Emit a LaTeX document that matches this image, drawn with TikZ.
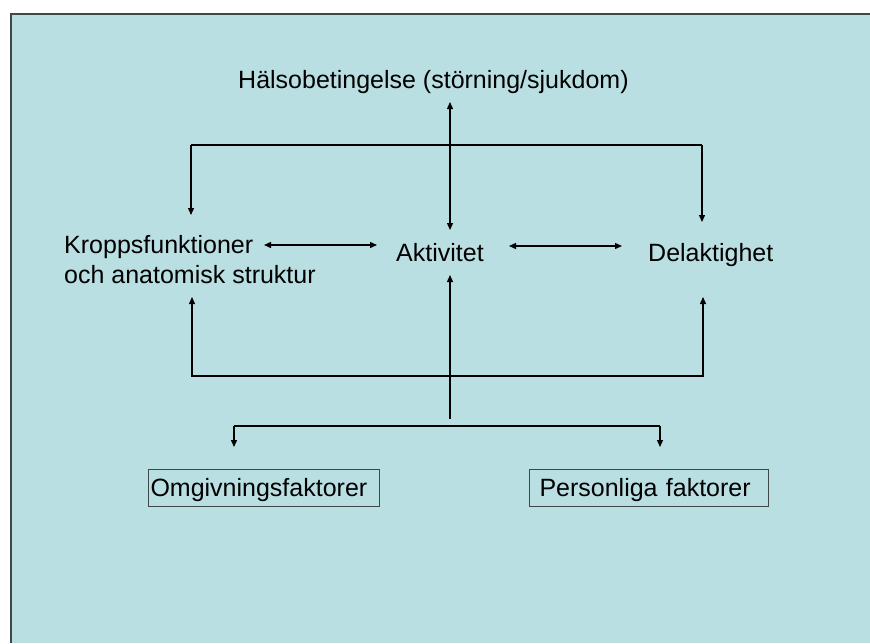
\documentclass[tikz,border=0pt]{standalone}
\usepackage{fontspec}
\setmainfont{Liberation Sans}
\usetikzlibrary{arrows.meta}
\definecolor{bgc}{HTML}{BADFE2}
\definecolor{edge}{HTML}{3E4848}
\begin{document}
\begin{tikzpicture}[x=1pt,y=-1pt,
  lbl/.style={inner sep=0pt,anchor=base west,font=\fontsize{25}{30}\selectfont},
  boxed/.style={draw=edge,line width=1pt,anchor=west,align=left,minimum height=37pt,inner ysep=0pt,text height=20pt,text depth=3pt,font=\fontsize{25}{30}\selectfont},
  conn/.style={line width=1.3pt,draw=black},
  tip/.style={-{Triangle[length=7pt,width=6pt]}},
  tips/.style={{Triangle[length=7pt,width=6pt]}-{Triangle[length=7pt,width=6pt]}}]
\useasboundingbox (0,0) rectangle (870,643);
\fill[white] (0,0) rectangle (870,643);
\fill[bgc] (11,14) rectangle (870,643);
\draw[edge,line width=1.6pt] (11,643) -- (11,14) -- (870,14);

\node[lbl] (H) at (238,88) {Hälsobetingelse (störning/sjukdom)};
\node[lbl] (K) at (64,253) {\begin{tabular}[t]{@{}l@{}}Kroppsfunktioner\\och anatomisk struktur\end{tabular}};
\node[lbl] (A) at (396,261) {Aktivitet};
\node[lbl] (D) at (648,261) {Delaktighet};
\node[boxed,inner xsep=2.5pt,text width=226.5pt] (O) at (147.5,487.5) {Omgivningsfaktorer};
\node[boxed,inner xsep=10pt,text width=219pt] (P) at (529,487.5) {Personliga faktorer};

% named endpoints near the nodes
\coordinate (hA) at (450,102);
\coordinate (aT) at (450,230);
\coordinate (aB) at (450,275);
\coordinate (aL) at (377,245);
\coordinate (aR) at (509,246);
\coordinate (kR) at (264,245);
\coordinate (kT) at (191,215);
\coordinate (kB) at (192,297);
\coordinate (dL) at (622,246);
\coordinate (dT) at (702,222);
\coordinate (dB) at (703,297);
\coordinate (oT) at (234,447);
\coordinate (pT) at (660,447);
\coordinate (cEnd) at (450,419);

\draw[conn,tips] (hA) -- (aT);
\draw[conn,tip] (kT |- 0,145) -- (kT);
\draw[conn] (kT |- 0,145) -- (dT |- 0,145);
\draw[conn,tip] (dT |- 0,145) -- (dT);
\draw[conn,tips] (kR) -- (aL);
\draw[conn,tips] (aR) -- (dL);
\draw[conn,tips] (kB) -- (kB |- 0,376) -- (dB |- 0,376) -- (dB);
\draw[conn,tip] (cEnd) -- (aB);
\draw[conn,tip] (oT |- 0,426) -- (oT);
\draw[conn] (oT |- 0,426) -- (pT |- 0,426);
\draw[conn,tip] (pT |- 0,426) -- (pT);
\end{tikzpicture}
\end{document}
